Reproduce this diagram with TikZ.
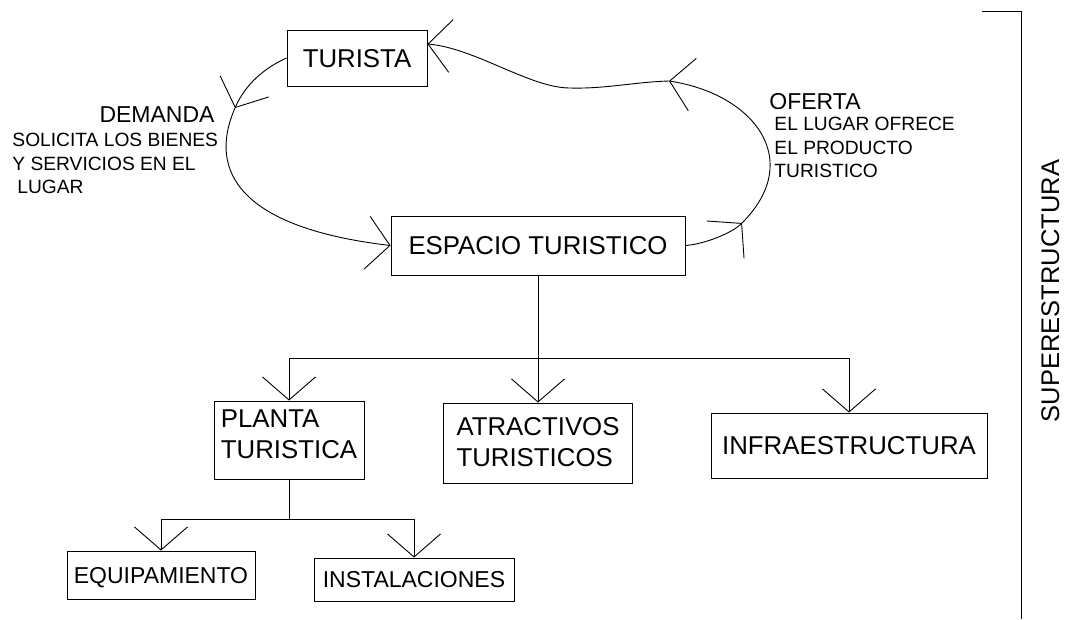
\documentclass[tikz,border=0pt]{standalone}
\usepackage{fontspec}
\setmainfont{Liberation Sans}
\usetikzlibrary{arrows.meta}
\tikzstyle{boxNode}=[draw,inner sep=0pt,text depth=0pt,font=\fontsize{25.8pt}{31pt}\selectfont]
\tikzstyle{smallBox}=[boxNode,font=\fontsize{23pt}{28pt}\selectfont]
\tikzstyle{flow}=[-{Straight Barb[length=23pt,width=53pt]}]
\tikzstyle{headText}=[inner sep=0pt,font=\fontsize{23pt}{27pt}\selectfont]
\tikzstyle{noteText}=[inner sep=0pt,align=left,font=\fontsize{19.2pt}{23.3pt}\selectfont]

\begin{document}
\begin{tikzpicture}[x=1pt,y=1pt,line width=0.9pt]

    \useasboundingbox (0,0) rectangle (1073,-619);

    \node[boxNode,minimum width=140pt,minimum height=56pt] (t) at (357,-58) {TURISTA};
    \node[boxNode,minimum width=294pt,minimum height=59pt] (e) at (538,-245.5) {ESPACIO TURISTICO};
    \node[boxNode,align=left,text depth=11pt,minimum width=150pt,minimum height=78pt] (pl) at (289,-440) {PLANTA\\TURISTICA};
    \node[boxNode,align=left,text depth=3pt,minimum width=189pt,minimum height=80pt] (at) at (538,-443) {ATRACTIVOS\\TURISTICOS};
    \node[boxNode,minimum width=276pt,minimum height=65pt] (in) at (849,-445.5) {INFRAESTRUCTURA};
    \node[smallBox,minimum width=188pt,minimum height=48pt] (eq) at (161,-575) {EQUIPAMIENTO};
    \node[smallBox,minimum width=200pt,minimum height=43pt] (is) at (414,-579.5) {INSTALACIONES};

    \node[headText,anchor=base east] (dem) at (215,-122) {DEMANDA};
    \node[noteText,anchor=north west] (demtxt) at (12,-133) {SOLICITA LOS BIENES\\Y SERVICIOS EN EL\\\hspace*{5pt}LUGAR};
    \node[headText,anchor=base west] (of) at (769,-109) {OFERTA};
    \node[noteText,anchor=north west] (oftxt) at (774,-117) {EL LUGAR OFRECE\\EL PRODUCTO\\TURISTICO};
    \node[inner sep=0pt,rotate=90,anchor=base,font=\fontsize{25.5pt}{30pt}\selectfont] (sup) at (1059,-291) {SUPERESTRUCTURA};

    \coordinate (m1) at (235,-108);
    \coordinate (m2) at (742,-223);
    \coordinate (m3) at (669,-81);
    \coordinate (j1) at (538,-358);
    \coordinate (j2) at (289,-519);

    \draw[flow] (t.west) .. controls (264,-68) and (245,-85) .. (m1);
    \draw[flow] (m1) .. controls (207,-172) and (241,-228) .. (e.west);
    \draw[flow] (e.east) .. controls (705,-244) and (732,-233) .. (m2);
    \draw[flow] (m2) .. controls (805,-160) and (754,-94) .. (m3);
    \draw[flow] (m3) .. controls (635,-82) and (605,-89) .. (570,-88) .. controls (530,-88) and (475,-48) .. ([yshift=14pt]t.east);

    \draw[flow] (e.south) -- (at.north);
    \draw[flow] (j1) -| (pl.north);
    \draw[flow] (j1) -| (in.north);
    \draw (pl.south) -- (j2);
    \draw[flow] (j2) -| (eq.north);
    \draw[flow] (j2) -| (is.north);

    \draw (982,-11) -| (1021.5,-619);

\end{tikzpicture}
\end{document}
